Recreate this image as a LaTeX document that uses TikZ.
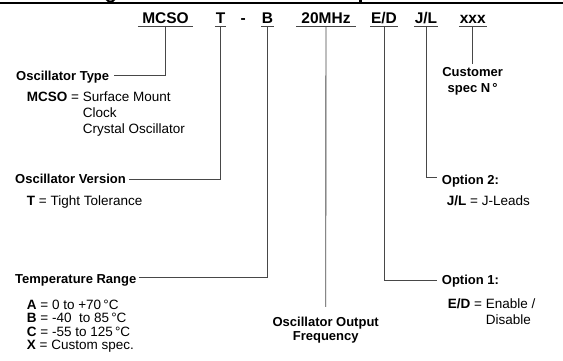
\documentclass[tikz,border=0pt]{standalone}
\usepackage{fontspec}
\setmainfont{Liberation Sans}
\usetikzlibrary{calc}
\tikzset{
 hdr/.style={font=\fontsize{15.5}{18}\selectfont\bfseries, inner xsep=0.7pt, inner ysep=3.4pt, text depth=0pt, anchor=base},
 ttl/.style={font=\fontsize{13}{15}\selectfont\bfseries, inner sep=0pt, anchor=base west},
 ctl/.style={font=\fontsize{13}{15}\selectfont\bfseries, inner sep=0pt, anchor=base},
 txt/.style={font=\fontsize{13.5}{16}\selectfont, inner sep=0pt, anchor=base west},
 cline/.style={draw=black!72, line width=0.9pt},
 topline/.style={draw=black, line width=2pt},
}
\begin{document}
\begin{tikzpicture}[x=1pt,y=-1pt]
\useasboundingbox (0,0) rectangle (563,361);
% cut-off title rule and descender fragments
\draw[topline] (0,2.7) -- (563,2.7);
\draw[line width=1.8pt] (106.5,-0.5) .. controls (108,2.2) and (113,2.2) .. (114.5,-0.5);
\draw[line width=2.2pt] (360.5,-0.5) -- (360.5,2);

% header code
\node[hdr, inner xsep=4.3pt] (hM) at (165.5,23.3) {MCSO};
\node[hdr] (hT) at (220.5,23.3) {T};
\node[hdr] (hD) at (243.3,23.3) {-};
\node[hdr] (hB) at (267.5,23.3) {B};
\node[hdr, inner xsep=5pt] (hF) at (326,23.3) {20MHz};
\node[hdr] (hE) at (384,23.3) {E/D};
\node[hdr] (hJ) at (426,23.3) {J/L};
\node[hdr] (hX) at (472.7,23.3) {xxx};
\foreach \n in {hM,hT,hB,hF,hE,hJ,hX}
  \draw[cline] (\n.south west) -- (\n.south east);

% left side titles and descriptions
\node[ttl] (tType) at (16,80.7) {Oscillator Type};
\node[txt] (dType) at (26.7,101.7) {\begin{tabular}[t]{@{}l@{}l@{}}\textbf{MCSO}\ =\kern3.75pt & Surface Mount\\ & Clock\\ & Crystal Oscillator\end{tabular}};

\node[ttl] (tVer) at (15,183.3) {Oscillator Version};
\node[txt] (dVer) at (26.7,205) {\textbf{T} = Tight Tolerance};

\node[ttl] (tTemp) at (15,283) {Temperature Range};
\node[txt, font=\fontsize{13.5}{13.3}\selectfont] (dTemp) at (26.7,309.3) {\begin{tabular}[t]{@{}l@{}}\textbf{A} = 0 to +70\,°C\\ \textbf{B} = -40 \ to 85\,°C\\ \textbf{C} = -55 to 125\,°C\\ \textbf{X} = Custom spec.\end{tabular}};

% middle
\node[ctl] (fr1) at (325.7,326) {Oscillator Output};
\node[ctl] (fr2) at (325.7,340.7) {Frequency};

% right side
\node[ctl] (cu1) at (472.7,77) {Customer};
\node[ctl] (cu2) at (472.7,92.3) {spec N\,°};

\node[ttl] (tOp2) at (441.7,184.8) {Option 2:};
\node[txt] (dOp2) at (446.7,205) {\textbf{J/L} = J-Leads};

\node[ttl] (tOp1) at (441.7,284.3) {Option 1:};
\node[txt, font=\fontsize{13.5}{15.7}\selectfont] (dOp1) at (447.7,308.3) {\begin{tabular}[t]{@{}l@{}l@{}}\textbf{E/D}\ =\kern3.75pt & Enable /\\ & Disable\end{tabular}};

% connectors
\draw[cline] (hM.south) |- ($(tType.base east)+(5,-5)$);
\draw[cline] (hT.south) |- ($(tVer.base east)+(3,-4)$);
\draw[cline] (hB.south) |- ($(tTemp.base east)+(2,-5.3)$);
\draw[cline] (hF.south) -- ($(fr1.north)+(0,-9.6)$);
\draw[cline] (hE.south) |- ($(tOp1.base west)+(-5,-4.3)$);
\draw[cline] (hJ.south) |- ($(tOp2.base west)+(-5,-7.5)$);
\draw[cline] (hX.south) -- ($(cu1.north)+(0,-3.6)$);
\end{tikzpicture}
\end{document}
